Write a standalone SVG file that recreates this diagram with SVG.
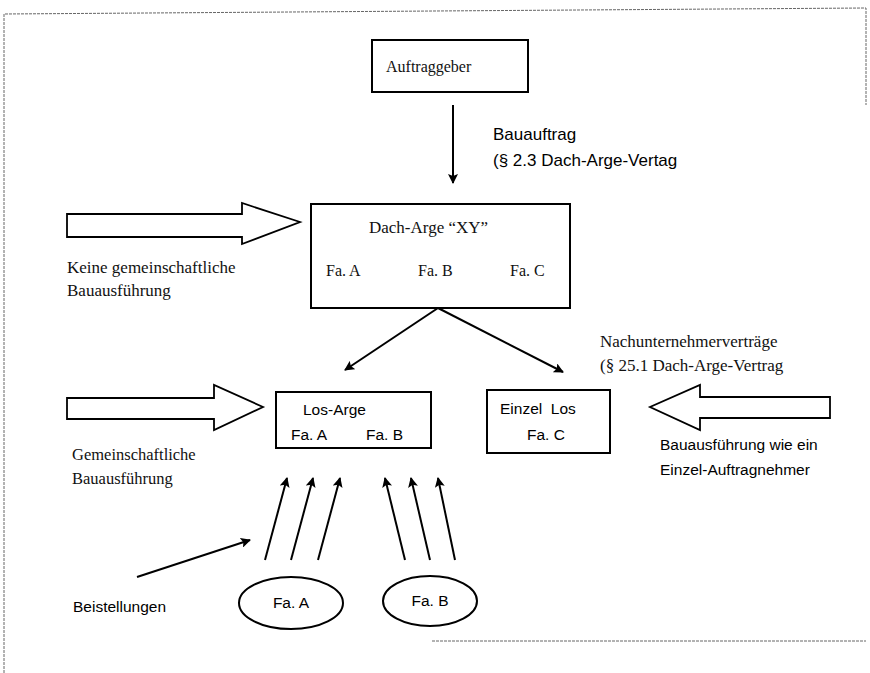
<svg xmlns="http://www.w3.org/2000/svg" width="870" height="673" viewBox="0 0 870 673">
<defs>
<style>
.box{fill:#fff;stroke:#000;stroke-width:2}
.frame{fill:none;stroke:#666;stroke-width:1;stroke-dasharray:3 1}
.hollow{fill:#fff;stroke:#000;stroke-width:1.8;stroke-linejoin:miter}
.con{fill:none;stroke:#000;stroke-width:2}
.serif{font-family:"Liberation Serif","Times New Roman",serif;font-size:16px;fill:#111}
.serif-l{font-size:17px}
.serif-m{font-size:16.5px}
.sans{font-family:"Liberation Sans",Arial,sans-serif;font-size:15.5px;fill:#000}
.sans-l{font-size:17px}
</style>
<marker id="ah" viewBox="0 0 10 10" refX="9" refY="5" markerWidth="5" markerHeight="5" orient="auto" markerUnits="strokeWidth">
<path d="M0,0 L10,5 L0,10 L2,5 z" fill="#000"/>
</marker>
</defs>
<rect width="870" height="673" fill="#fff"/>
<g id="frame">
<path class="frame" d="M4,673 L4,14 L866,8 L866,105"/>
<path class="frame" d="M432,641 L866,641"/>
</g>
<g id="connectors">
<line class="con" x1="453" y1="105" x2="453" y2="183" marker-end="url(#ah)"/>
<line class="con" x1="438" y1="308" x2="345" y2="370" marker-end="url(#ah)"/>
<line class="con" x1="438" y1="308" x2="563" y2="372" marker-end="url(#ah)"/>
<line class="con" x1="265" y1="560" x2="287" y2="478" marker-end="url(#ah)"/>
<line class="con" x1="291" y1="560" x2="313" y2="478" marker-end="url(#ah)"/>
<line class="con" x1="318" y1="560" x2="340" y2="478" marker-end="url(#ah)"/>
<line class="con" x1="405" y1="560" x2="385" y2="478" marker-end="url(#ah)"/>
<line class="con" x1="430" y1="560" x2="411" y2="478" marker-end="url(#ah)"/>
<line class="con" x1="455" y1="560" x2="438" y2="478" marker-end="url(#ah)"/>
<line class="con" x1="137" y1="577" x2="250" y2="540" marker-end="url(#ah)"/>
<polygon class="hollow" points="67,214 242,214 242,203 300,222 242,244 242,237 67,237"/>
<polygon class="hollow" points="67,398 214,398 214,385 263,407 214,430 214,419 67,419"/>
<polygon class="hollow" points="830,397 700,397 700,385 650,407 700,430 700,418 830,418"/>
</g>
<g id="auftraggeber">
<rect class="box" x="372" y="40" width="156" height="52"/>
<text class="serif" x="386" y="72">Auftraggeber</text>
</g>
<g id="label-bauauftrag">
<text class="sans sans-l" x="493" y="140">Bauauftrag</text>
<text class="sans sans-l" x="493" y="166">(§ 2.3 Dach-Arge-Vertag</text>
</g>
<g id="dach-arge">
<rect class="box" x="311" y="204" width="259" height="104"/>
<text class="serif serif-l" x="369" y="233">Dach-Arge “XY”</text>
<text class="serif" x="326" y="276">Fa. A</text>
<text class="serif" x="418" y="276">Fa. B</text>
<text class="serif" x="510" y="276">Fa. C</text>
</g>
<g id="label-keine">
<text class="serif serif-l" x="67" y="273">Keine gemeinschaftliche</text>
<text class="serif serif-l" x="67" y="296">Bauausführung</text>
</g>
<g id="label-nachunternehmer">
<text class="serif serif-l" x="600" y="347">Nachunternehmerverträge</text>
<text class="serif serif-l" x="600" y="371">(§ 25.1 Dach-Arge-Vertrag</text>
</g>
<g id="los-arge">
<rect class="box" x="276" y="392" width="155" height="56"/>
<text class="sans" x="303" y="415">Los-Arge</text>
<text class="sans" x="291" y="440">Fa. A</text>
<text class="sans" x="366" y="440">Fa. B</text>
</g>
<g id="einzel-los">
<rect class="box" x="487" y="390" width="123" height="63"/>
<text class="sans" x="500" y="414" xml:space="preserve">Einzel  Los</text>
<text class="sans" x="527" y="440">Fa. C</text>
</g>
<g id="label-gemeinschaftliche">
<text class="serif serif-m" x="72" y="460">Gemeinschaftliche</text>
<text class="serif serif-m" x="72" y="484">Bauausführung</text>
</g>
<g id="label-einzel">
<text class="sans" x="660" y="450">Bauausführung wie ein</text>
<text class="sans" x="660" y="475">Einzel-Auftragnehmer</text>
</g>
<g id="label-beistellungen">
<text class="sans" x="73" y="612">Beistellungen</text>
</g>
<g id="fa-a">
<ellipse class="box" cx="291" cy="603" rx="52" ry="26"/>
<text class="sans" x="291" y="608" text-anchor="middle">Fa. A</text>
</g>
<g id="fa-b">
<ellipse class="box" cx="430" cy="601" rx="47" ry="25"/>
<text class="sans" x="430" y="606" text-anchor="middle">Fa. B</text>
</g>
</svg>
